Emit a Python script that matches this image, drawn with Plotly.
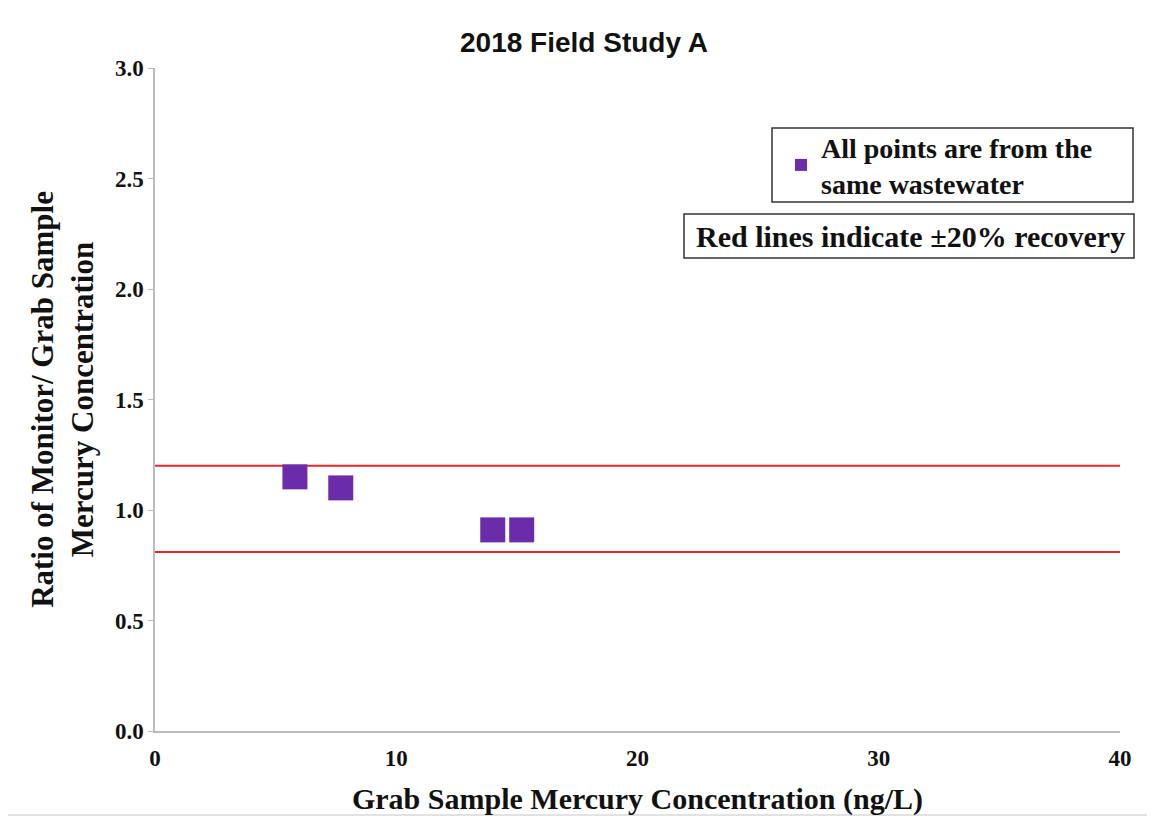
import plotly.graph_objects as go

# Data
grab_conc = [5.8, 7.7, 14.0, 15.2]
ratio = [1.15, 1.10, 0.91, 0.91]
limit_x = [0, 40]
upper_limit = [1.2, 1.2]
lower_limit = [0.81, 0.81]
x_ticks = [0, 10, 20, 30, 40]
y_ticks = [0.0, 0.5, 1.0, 1.5, 2.0, 2.5, 3.0]

serif = "Liberation Serif, Times New Roman, serif"
OFF = 8  # page body margin
W, H = 1155 - OFF, 819 - OFF
L, T = 155 - OFF, 68 - OFF
pw, ph = 1120 - 155, 731 - 68
R, B = W - L - pw, H - T - ph


def px(xp):
    return (xp - OFF - L) / pw


def py(yp):
    return 1 - (yp - OFF - T) / ph


fig = go.Figure()
fig.add_trace(go.Scatter(x=limit_x, y=upper_limit, mode="lines",
                         line=dict(color="#E8262A", width=2), showlegend=False, hoverinfo="skip"))
fig.add_trace(go.Scatter(x=limit_x, y=lower_limit, mode="lines",
                         line=dict(color="#E8262A", width=2), showlegend=False, hoverinfo="skip"))
fig.add_trace(go.Scatter(x=grab_conc, y=ratio, mode="markers",
                         marker=dict(symbol="square", size=25, color="#6A2CA8"),
                         name="<b>All points are from the<br>same wastewater</b>"))

box = dict(type="rect", xref="paper", yref="paper", layer="below",
           line=dict(color="#333333", width=1.5), fillcolor="white")

fig.update_layout(
    width=W, height=H,
    margin=dict(l=L, r=R, t=T, b=B, autoexpand=False),
    paper_bgcolor="white", plot_bgcolor="white",
    title=dict(text="<b>2018 Field Study A</b>", x=(584 - OFF) / W, xanchor="center",
               y=1 - (42 - OFF) / H, yanchor="middle",
               font=dict(family="Liberation Sans Narrow, Arial Narrow, sans-serif", size=28, color="#111")),
    xaxis=dict(range=[0, 40], tickvals=x_ticks, ticktext=[f"<b>{v}</b>" for v in x_ticks],
               showgrid=False, zeroline=False, showline=True, linecolor="#BBBBBB", linewidth=1.5,
               ticks="", ticklabelstandoff=6,
               tickfont=dict(family=serif, size=23, color="#111"), automargin=False,
               title=dict(text="<b>Grab Sample Mercury Concentration (ng/L)</b>",
                          font=dict(family=serif, size=30, color="#111"), standoff=18)),
    yaxis=dict(range=[0, 3], tickvals=y_ticks, ticktext=[f"<b>{v:.1f}</b>" for v in y_ticks],
               showgrid=False, zeroline=False, showline=True, linecolor="#BBBBBB", linewidth=1.5,
               ticks="outside", ticklen=5, tickcolor="#BBBBBB", automargin=False,
               tickfont=dict(family=serif, size=23, color="#111"),
               title=dict(text="<b>Ratio of Monitor/ Grab Sample<br>Mercury Concentration</b>",
                          font=dict(family=serif, size=31, color="#111"), standoff=12)),
    legend=dict(x=px(781), xanchor="left", y=py(122), yanchor="top",
                borderwidth=0, bgcolor="rgba(0,0,0,0)",
                font=dict(family=serif, size=28, color="#111"),
                itemsizing="constant", tracegroupgap=0, itemwidth=30),
    annotations=[dict(text="<b>Red lines indicate ±20% recovery</b>", xref="paper", yref="paper",
                      x=px(910), xanchor="center", y=py(236), yanchor="middle",
                      showarrow=False, font=dict(family=serif, size=30, color="#111"))],
    shapes=[
        dict(type="rect", xref="paper", yref="paper",
             x0=px(5), x1=px(1150), y0=py(815), y1=py(4),
             line=dict(color="#D9D9D9", width=1.5), layer="below"),
        dict(box, x0=px(772), x1=px(1133), y0=py(202), y1=py(128)),
        dict(box, x0=px(684), x1=px(1134), y0=py(258), y1=py(214)),
    ],
)

fig.write_html("out.html")
